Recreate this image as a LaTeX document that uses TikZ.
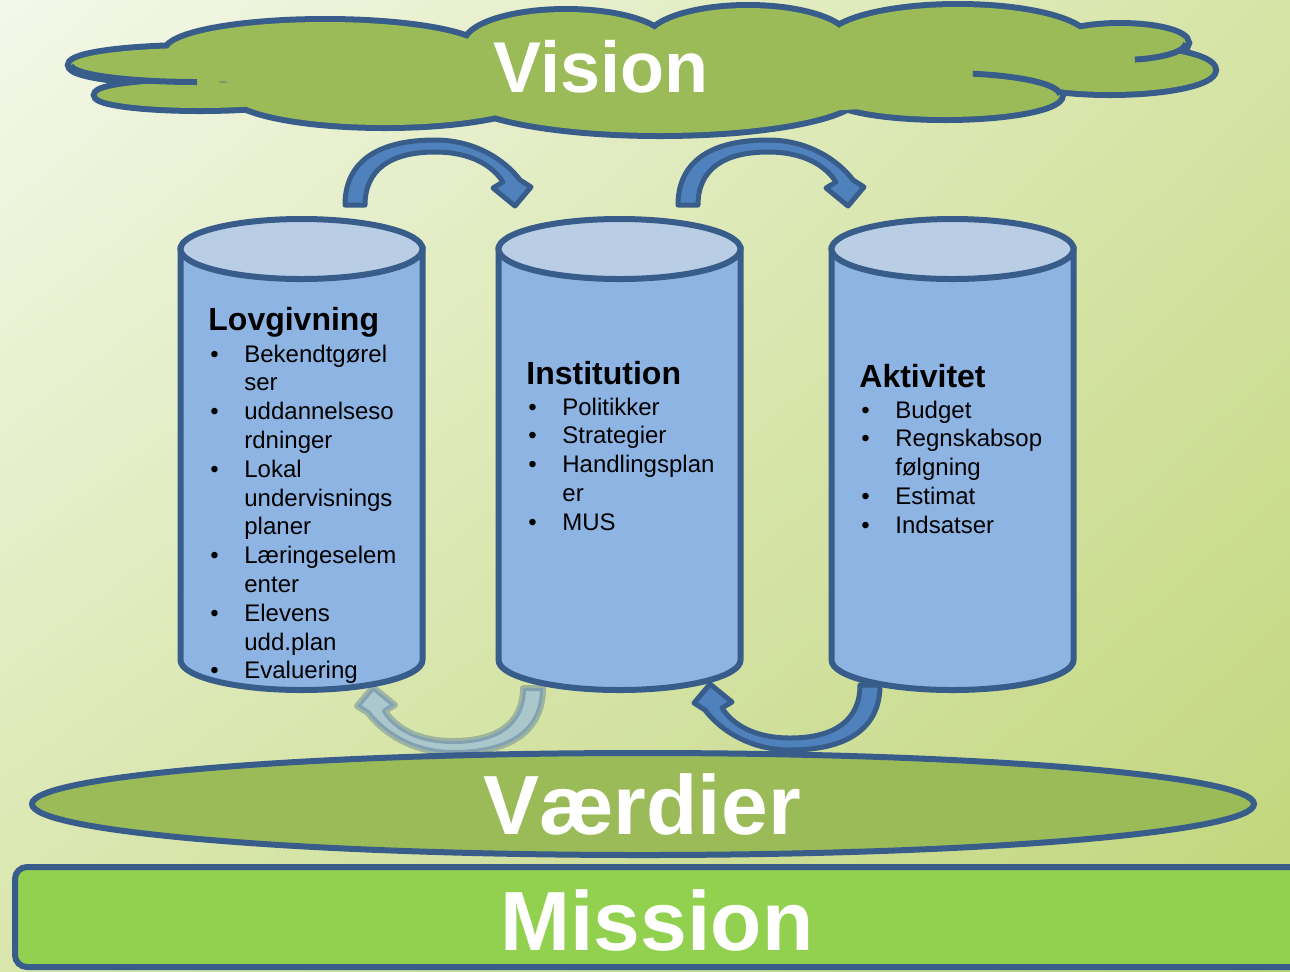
\documentclass[tikz,border=0pt]{standalone}
\usepackage{fontspec}
\setmainfont{Liberation Sans}
\usetikzlibrary{positioning, shadings}

\definecolor{bgtl}{HTML}{F4F8EA}
\definecolor{bgtr}{HTML}{D6E4A6}
\definecolor{bgbl}{HTML}{D8E6AC}
\definecolor{bgbr}{HTML}{C0D57A}
\definecolor{edge}{HTML}{385D8A}
\definecolor{leaf}{HTML}{9BBB59}
\definecolor{lime}{HTML}{92D050}
\definecolor{barrel}{HTML}{8EB4E3}
\definecolor{lid}{HTML}{B9CDE5}
\definecolor{arrowblue}{HTML}{4F81BD}

\newcommand{\bul}{\llap{\textbullet\hspace{12.8pt}}}

\begin{document}
\begin{tikzpicture}[x=0.5pt, y=-0.5pt,
big/.style={text=white, font=\fontsize{42}{42}\selectfont\bfseries, anchor=base, inner sep=0pt},
title/.style={font=\fontsize{16}{19}\selectfont\bfseries, anchor=base west, inner sep=0pt},
items/.style={font=\fontsize{12}{14.4}\selectfont, align=left, anchor=base west, inner sep=0pt},
barrel body/.style={fill=barrel, draw=edge, line width=3pt},
barrel lid/.style={fill=lid, draw=edge, line width=3pt},
arrow body/.style={fill=arrowblue, draw=edge, line width=2.5pt, line join=round},
bend arrow/.pic={
  \filldraw[arrow body] (0,0) .. controls (0,-45) and (35,-65) .. (90,-65)
    .. controls (130,-65) and (160,-45) .. (175,-25) -- (186,-18) -- (170,1) -- (148,-17) -- (158,-23)
    .. controls (147,-40) and (125,-53) .. (90,-53) .. controls (45,-53) and (20,-35) .. (20,0) -- cycle;}]

    \useasboundingbox (0,0) rectangle (1290,971);
    \shade[upper left=bgtl, upper right=bgtr, lower left=bgbl, lower right=bgbr] (0,0) rectangle (1290,971);

    % cloud
    \foreach \cx/\cy/\rx/\ry in {197/65/126/17, 200/95/103/13, 325/52/158/30, 385/92/155/33, 660/92/200/41,
        566/45/100/33, 748/42/100/34, 958/42/130/35, 1120/43/66/17, 1110/70/103/22, 945/95/115/22}
      \draw[edge, line width=6pt] (\cx,\cy) ellipse [x radius=\rx, y radius=\ry];
    \foreach \cx/\cy/\rx/\ry in {197/65/126/17, 200/95/103/13, 325/52/158/30, 385/92/155/33, 660/92/200/41,
        566/45/100/33, 748/42/100/34, 958/42/130/35, 1120/43/66/17, 1110/70/103/22, 945/95/115/22, 640/75/420/40}
      \fill[leaf] (\cx,\cy) ellipse [x radius=\rx, y radius=\ry];
    \draw[edge, line width=3pt] (71,65) arc[start angle=180, end angle=90, x radius=126, y radius=17];
    \draw[edge, line width=3pt] (1186,43) arc[start angle=0, end angle=77, x radius=66, y radius=17];
    \draw[edge, line width=3pt] (972.8,73.7) arc[start angle=-76, end angle=0, x radius=115, y radius=22];
    \node[big, font=\fontsize{36}{36}\selectfont\bfseries] (vision) at (601,92) {Vision};

    \foreach \cx/\nm in {301.5/lov, 619.5/inst, 952.5/akt}{
      \coordinate (\nm) at (\cx,249);
      \filldraw[barrel body] (\cx-121,249) -- (\cx-121,660) arc[start angle=180, end angle=0, x radius=121, y radius=30] -- (\cx+121,249) -- cycle;
      \filldraw[barrel lid] (\nm) ellipse [x radius=121, y radius=30];
    }

    \pic at (345,205) {bend arrow};
    \pic at (678,205) {bend arrow};
    \pic[rotate=180] at (880,685) {bend arrow};
    \pic[rotate=180, arrow body/.append style={fill=barrel, fill opacity=.6, draw opacity=.35, line width=3pt}] at (543,688) {bend arrow};

    \draw[edge, fill=leaf, line width=3pt] (643,804) ellipse [x radius=611, y radius=51];
    \draw[edge, fill=lime, line width=3pt, rounded corners=6pt] (15,867) rectangle (1320,967);
    \node[big] (vaerdier) at (642,834) {Værdier};
    \node[big] (mission) at (657,950) {Mission};

    % base of a list = baseline of its last line
    \node[title] (lovT) at ([shift={(-93.5,81)}]lov) {Lovgivning};
    \node[items] (lovL) at ([shift={(36,348.8)}]lovT.base west) {\bul Bekendtgørel\\ser\\\bul uddannelseso\\rdninger\\\bul Lokal\\undervisnings\\planer\\\bul Læringeselem\\enter\\\bul Elevens\\udd.plan\\\bul Evaluering};
    \node[title] (instT) at ([shift={(-93.5,135)}]inst) {Institution};
    \node[items] (instL) at ([shift={(36,146.2)}]instT.base west) {\bul Politikker\\\bul Strategier\\\bul Handlingsplan\\er\\\bul MUS};
    \node[title] (aktT) at ([shift={(-93.5,138)}]akt) {Aktivitet};
    \node[items] (aktL) at ([shift={(36,146.2)}]aktT.base west) {\bul Budget\\\bul Regnskabsop\\følgning\\\bul Estimat\\\bul Indsatser};

\end{tikzpicture}
\end{document}
